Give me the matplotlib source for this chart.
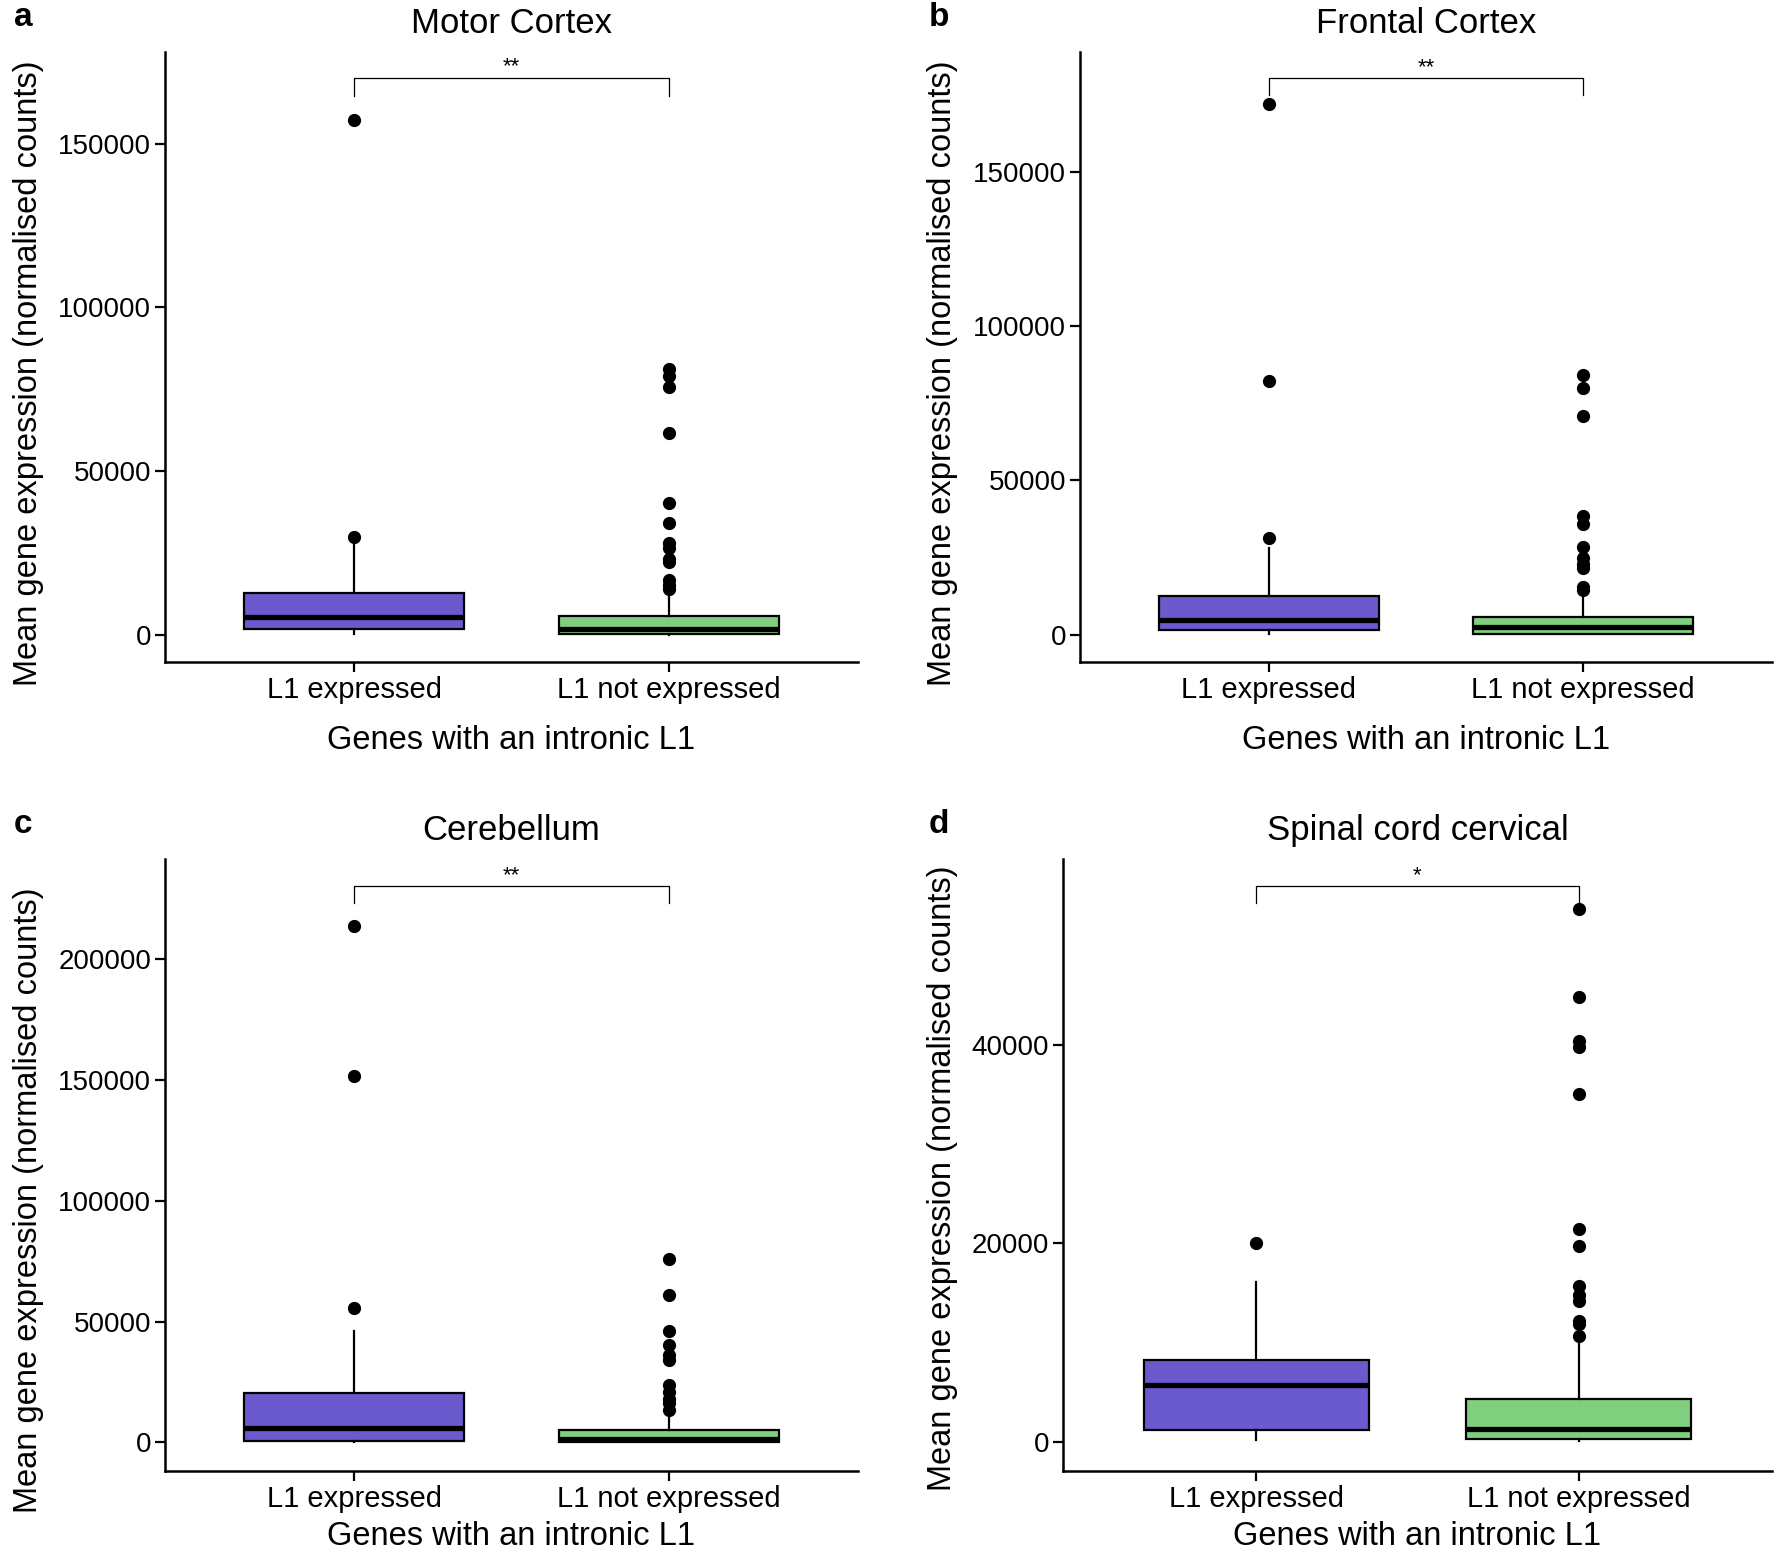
import matplotlib
matplotlib.use('Agg')
from matplotlib import pyplot as plt

plt.rcParams['font.family'] = ['Liberation Sans', 'DejaVu Sans']

groups = ['L1 expressed', 'L1 not expressed']
colours = ['#6A5ACD', '#7FCF7F']

# box stats: (whislo, q1, med, q3, whishi)
motor_stats = [(200, 1900, 5600, 12700, 28000), (100, 300, 1900, 5900, 13500)]
motor_out = [[157300, 30000],
             [81300, 79100, 75800, 61700, 40400, 34300, 28200, 26700, 23200,
              22300, 16800, 15300, 14200]]

frontal_stats = [(200, 1400, 4700, 12400, 28200), (100, 300, 2400, 5700, 12900)]
frontal_out = [[172000, 82300, 31300],
               [84200, 79800, 70800, 38400, 36000, 28300, 24700, 22800, 21600,
                15600, 14500]]

cereb_stats = [(100, 800, 5900, 20600, 46200), (50, 150, 1400, 5300, 10600)]
cereb_out = [[213700, 151600, 55600],
             [76000, 61100, 46200, 40200, 36200, 34100, 23900, 20800, 18200,
              16300, 13300]]

spinal_stats = [(200, 1200, 5800, 8300, 16100), (100, 350, 1350, 4300, 10100)]
spinal_out = [[20000],
              [53700, 44800, 40400, 39800, 35000, 21500, 19700, 15700, 14800,
               14200, 12200, 11900, 10700]]

panels = [
    ('a', 'Motor Cortex', motor_stats, motor_out, [0, 50000, 100000, 150000],
     (-8200, 178000), 170200, 164700, '**'),
    ('b', 'Frontal Cortex', frontal_stats, frontal_out, [0, 50000, 100000, 150000],
     (-8800, 188700), 180200, 174700, '**'),
    ('c', 'Cerebellum', cereb_stats, cereb_out, [0, 50000, 100000, 150000, 200000],
     (-11800, 241500), 230200, 223100, '**'),
    ('d', 'Spinal cord cervical', spinal_stats, spinal_out, [0, 20000, 40000],
     (-2900, 58700), 56000, 54300, '*'),
]

# axes rectangles in figure fractions
rects = [
    [0.093, 0.5735, 0.3904, 0.393],
    [0.6085, 0.5735, 0.3898, 0.393],
    [0.093, 0.0522, 0.3904, 0.3943],
    [0.5989, 0.0522, 0.3994, 0.3943],
]
ylab_x = [44, 958, 44, 958]          # pixel x of the y-label's right edge
ylab_y = [0.474, 0.474, 0.443, 0.479]
xlab_pad = [15, 15, 6, 6]

fig = plt.figure(figsize=(17.75, 15.52), dpi=100)

for i, ((tag, title, stats, outs, ticks, ylim, br_y, br_end, sig), rect) in enumerate(zip(panels, rects)):
    ax = fig.add_axes(rect)
    bstats = []
    for name, s, o in zip(groups, stats, outs):
        bstats.append({'label': name, 'whislo': s[0], 'q1': s[1], 'med': s[2],
                       'q3': s[3], 'whishi': s[4], 'fliers': o})
    res = ax.bxp(bstats, positions=[1, 2], widths=0.7, patch_artist=True,
                 showcaps=False,
                 boxprops=dict(linewidth=1.6, edgecolor='black'),
                 medianprops=dict(color='black', linewidth=3.8, solid_capstyle='butt'),
                 whiskerprops=dict(color='black', linewidth=1.6),
                 flierprops=dict(marker='o', markerfacecolor='black',
                                 markeredgecolor='black', markersize=8.5))
    for patch, c in zip(res['boxes'], colours):
        patch.set_facecolor(c)

    # significance bracket
    ax.plot([1, 1, 2, 2], [br_end, br_y, br_y, br_end], color='black', lw=0.9)
    ax.text(1.5, br_y, sig, ha='center', va='bottom', fontsize=16)

    ax.set_xlim(0.4, 2.6)
    ax.set_ylim(*ylim)
    ax.set_yticks(ticks)
    ax.set_yticklabels([str(t) for t in ticks])
    ax.set_xticks([1, 2])
    ax.set_xticklabels(groups)
    ax.tick_params(labelsize=20, length=7, width=1.6, color='black', pad=3)
    ax.tick_params(axis='x', labelsize=21)
    for side in ['top', 'right']:
        ax.spines[side].set_visible(False)
    for side in ['left', 'bottom']:
        ax.spines[side].set_linewidth(1.8)
    ax.set_xlabel('Genes with an intronic L1', fontsize=23.5, labelpad=xlab_pad[i])
    ax.set_ylabel('Mean gene expression (normalised counts)', fontsize=23.5)
    ax.yaxis.set_label_coords((ylab_x[i] / 1775 - rect[0]) / rect[2], ylab_y[i])
    ax.set_title(title, fontsize=25, pad=14)

    tag_x = 0.013 if tag in 'ac' else 0.529
    fig.text(tag_x, rect[1] + rect[3] + 0.022, tag, fontsize=24, fontweight='bold',
             ha='center', va='center')

fig.savefig('out.png', dpi=100)
